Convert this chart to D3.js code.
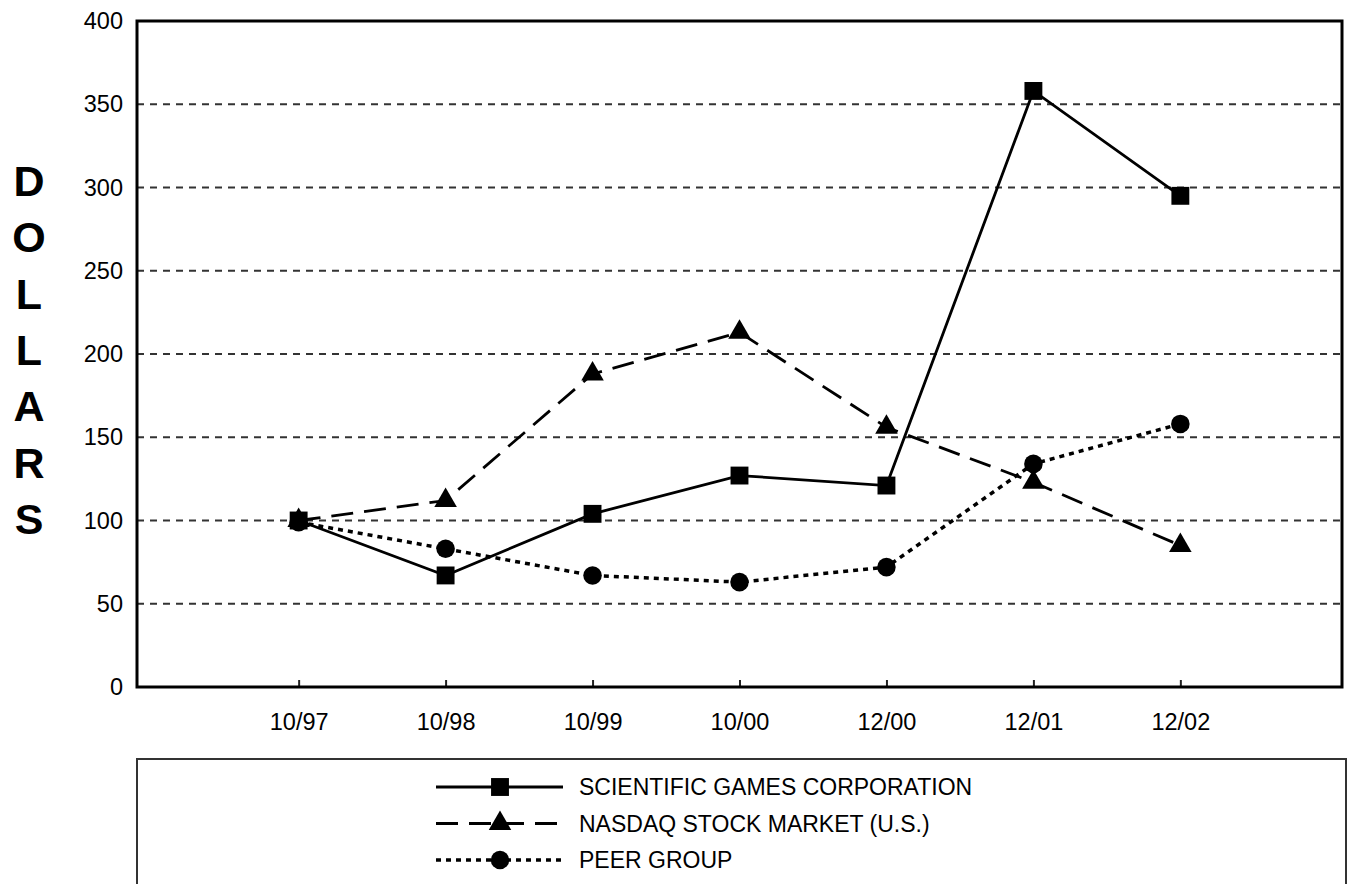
<!DOCTYPE html>
<html>
<head>
<meta charset="utf-8">
<script src="https://cdn.jsdelivr.net/npm/d3@7"></script>
<style>
  body { margin: 0; background: #fff; }
  svg { display: block; font-family: "Liberation Sans", Arial, Helvetica, sans-serif; }
</style>
</head>
<body>
<svg id="chart"></svg>
<script>
const periods = ["10/97", "10/98", "10/99", "10/00", "12/00", "12/01", "12/02"]
const yTicks = [0, 50, 100, 150, 200, 250, 300, 350, 400]
const sgcValues = [100, 67, 104, 127, 121, 358, 295]
const nasdaqValues = [100, 112, 188, 213, 156, 123, 85]
const peerValues = [99, 83, 67, 63, 72, 134, 158]
const seriesNames = ["SCIENTIFIC GAMES CORPORATION", "NASDAQ STOCK MARKET (U.S.)", "PEER GROUP"]
const axisTitle = "DOLLARS"

const width = 1349
const height = 884
const plot = { left: 137, top: 21, right: 1342, bottom: 687 }

const svg = d3.select("#chart").attr("width", width).attr("height", height)

const x = d3.scalePoint().domain(periods).range([plot.left, plot.right]).padding(1.1)
const y = d3.scaleLinear().domain([0, 400]).range([plot.bottom, plot.top])

// dashed gridlines
svg.append("g")
  .selectAll("line")
  .data(yTicks.filter((d) => d > 0 && d < 400))
  .enter()
  .append("line")
  .attr("x1", plot.left)
  .attr("x2", plot.right)
  .attr("y1", (d) => y(d))
  .attr("y2", (d) => y(d))
  .attr("stroke", "#333")
  .attr("stroke-width", 2.2)
  .attr("stroke-dasharray", "7,6")

// y axis labels
const yAxis = svg.append("g")
  .attr("transform", `translate(${plot.left},0)`)
  .call(d3.axisLeft(y).tickValues(yTicks).tickSize(0).tickPadding(14))
yAxis.select(".domain").remove()
yAxis.selectAll("text")
  .attr("font-size", 23.5)
  .attr("font-family", "Liberation Sans, Arial, sans-serif")
  .attr("fill", "#000")

// x axis: small inward ticks, labels below
const xAxis = svg.append("g")
  .attr("transform", `translate(0,${plot.bottom})`)
  .call(d3.axisBottom(x).tickSize(-7).tickPadding(26))
xAxis.select(".domain").remove()
xAxis.selectAll("line").attr("stroke", "#222").attr("stroke-width", 2)
xAxis.selectAll("text")
  .attr("font-size", 23.5)
  .attr("font-family", "Liberation Sans, Arial, sans-serif")
  .attr("fill", "#000")

// frame
svg.append("rect")
  .attr("x", plot.left)
  .attr("y", plot.top)
  .attr("width", plot.right - plot.left)
  .attr("height", plot.bottom - plot.top)
  .attr("fill", "none")
  .attr("stroke", "#000")
  .attr("stroke-width", 3)

// vertical axis title, one letter per row
svg.append("g")
  .selectAll("text")
  .data(axisTitle.split(""))
  .enter()
  .append("text")
  .attr("x", 29)
  .attr("y", (d, i) => 196 + i * 56.3)
  .attr("text-anchor", "middle")
  .attr("font-size", 43)
  .attr("font-weight", "bold")
  .text((d) => d)

const series = [
  { name: seriesNames[0], values: sgcValues, dash: null, symbol: d3.symbolSquare, size: 320 },
  { name: seriesNames[1], values: nasdaqValues, dash: "22,11", symbol: d3.symbolTriangle, size: 220 },
  { name: seriesNames[2], values: peerValues, dash: "5,5", symbol: d3.symbolCircle, size: 270 },
]

const line = d3.line()
  .x((d, i) => x(periods[i]))
  .y((d) => y(d))

series.forEach((s) => {
  svg.append("path")
    .datum(s.values)
    .attr("d", line)
    .attr("fill", "none")
    .attr("stroke", "#000")
    .attr("stroke-width", s.dash === "5,5" ? 3.5 : 2.8)
    .attr("stroke-dasharray", s.dash)

  svg.append("g")
    .selectAll("path")
    .data(s.values)
    .enter()
    .append("path")
    .attr("d", d3.symbol().type(s.symbol).size(s.size))
    .attr("transform", (d, i) => `translate(${x(periods[i])},${y(d)})`)
    .attr("fill", "#000")
})

// legend
svg.append("rect")
  .attr("x", 137)
  .attr("y", 759)
  .attr("width", 1209)
  .attr("height", 140)
  .attr("fill", "none")
  .attr("stroke", "#333")
  .attr("stroke-width", 2)

const legend = svg.append("g")
  .selectAll("g")
  .data(series)
  .enter()
  .append("g")
  .attr("transform", (d, i) => `translate(0,${787 + i * 36.5})`)

legend.append("line")
  .attr("x1", 436)
  .attr("x2", 563)
  .attr("stroke", "#000")
  .attr("stroke-width", (d) => (d.dash === "5,5" ? 3.5 : 2.8))
  .attr("stroke-dasharray", (d) => d.dash)

legend.append("path")
  .attr("d", (d) => d3.symbol().type(d.symbol).size(d.size)())
  .attr("transform", "translate(500,0)")
  .attr("fill", "#000")

legend.append("text")
  .attr("x", 579)
  .attr("dy", "0.35em")
  .attr("font-size", 23)
  .attr("fill", "#000")
  .text((d) => d.name)
</script>
</body>
</html>
